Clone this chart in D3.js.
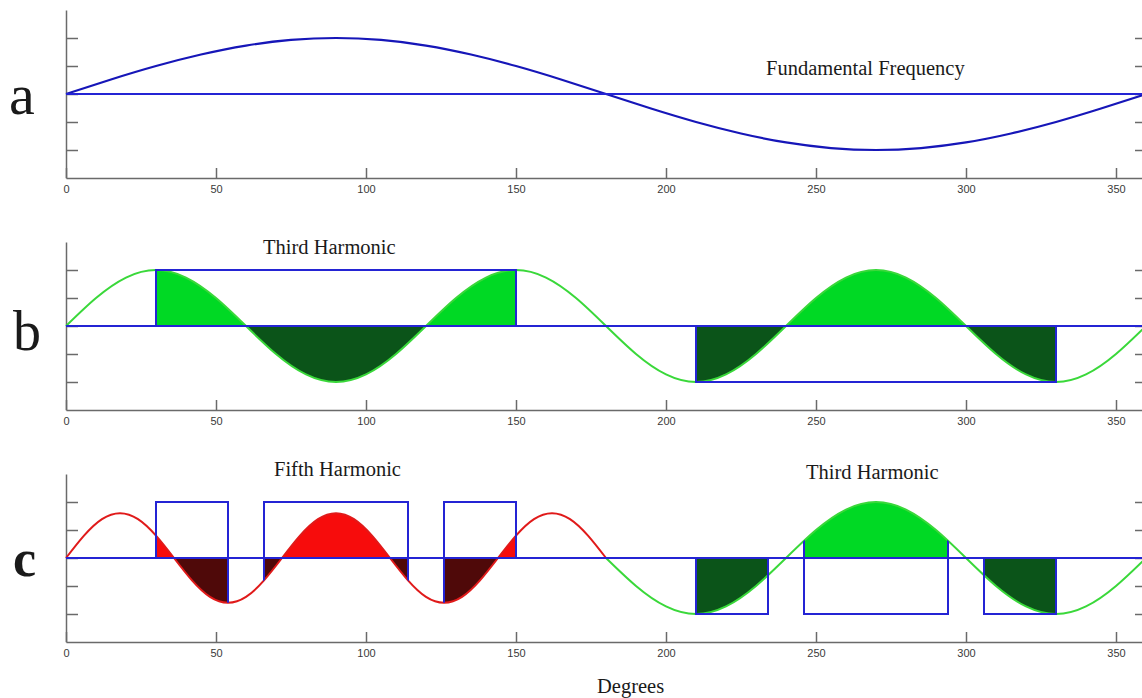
<!DOCTYPE html>
<html>
<head>
<meta charset="utf-8">
<script src="https://cdn.jsdelivr.net/npm/d3@7/dist/d3.min.js"></script>
<style>
  html, body { margin: 0; padding: 0; background: #fff; }
  svg { display: block; }
  .tick text { font-family: "Liberation Sans", Arial, sans-serif; font-size: 11px; fill: #3a3a3a; }
  .serif { font-family: "Liberation Serif", "Times New Roman", serif; fill: #1a1a1a; }
</style>
</head>
<body>
<svg id="chart" width="1142" height="698"></svg>
<script>
// Degree axis ticks and the (unlabelled) level ticks on each panel
const degreeTicks = [0, 50, 100, 150, 200, 250, 300, 350];
const levelTicks = [-2, -1, 0, 1, 2];

// Fundamental, sampled every 15 degrees from 0 to 360
const fundamentalStart = 0, fundamentalStep = 15;
const fundamental = [0, 0.52, 1.0, 1.41, 1.73, 1.93, 2, 1.93, 1.73, 1.41, 1.0, 0.52,
  0, -0.52, -1.0, -1.41, -1.73, -1.93, -2, -1.93, -1.73, -1.41, -1.0, -0.52, 0];

// Third harmonic, sampled every 10 degrees from 0 to 360
const thirdStart = 0, thirdStep = 10;
const thirdHarmonic = [0, 1, 1.73, 2, 1.73, 1, 0, -1, -1.73, -2, -1.73, -1,
  0, 1, 1.73, 2, 1.73, 1, 0, -1, -1.73, -2, -1.73, -1,
  0, 1, 1.73, 2, 1.73, 1, 0, -1, -1.73, -2, -1.73, -1, 0];

// Lower panel: fifth harmonic over 0..180 (every 6 degrees), third harmonic over 180..360 (every 10 degrees)
const fifthStart = 0, fifthStep = 6;
const fifthHarmonic = [0, 0.8, 1.39, 1.6, 1.39, 0.8, 0, -0.8, -1.39, -1.6, -1.39, -0.8,
  0, 0.8, 1.39, 1.6, 1.39, 0.8, 0, -0.8, -1.39, -1.6, -1.39, -0.8,
  0, 0.8, 1.39, 1.6, 1.39, 0.8, 0];
const thirdTailStart = 180, thirdTailStep = 10;
const thirdHarmonicTail = [0, -1, -1.73, -2, -1.73, -1, 0, 1, 1.73, 2, 1.73, 1,
  0, -1, -1.73, -2, -1.73, -1, 0];

// Switching pulses: [start degree, end degree, level]
const pulsesThird = [[30, 150, 2], [210, 330, -2]];
const pulsesFifthC = [[30, 54, 2], [66, 114, 2], [126, 150, 2]];
const pulsesThirdC = [[210, 234, -2], [246, 294, -2], [306, 330, -2]];

// Panel letters and captions
const panelLetters = ["a", "b", "c"];
const captionFundamental = "Fundamental Frequency";
const captionThird = "Third Harmonic";
const captionFifth = "Fifth Harmonic";
const axisTitle = "Degrees";

const svg = d3.select("#chart");
const W = 1142;
const panelHeight = 168;
const panelTops = [10, 242, 474];

const xs = d3.scaleLinear().domain([0, 360]).range([66, 1146]);

const BLUE = "#2424d4";
const colors = {
  green: { line: "#3ad83a", pos: "#00d924", neg: "#0b5419" },
  red:   { line: "#e01a1a", pos: "#f70c0c", neg: "#4f0909" }
};

let clipId = 0;
const defs = svg.append("defs");

function toPoints(values, start, step) {
  return values.map((v, i) => [start + i * step, v]);
}

function makePanel(i) {
  const top = panelTops[i];
  const ys = d3.scaleLinear().domain([-3, 3]).range([top + panelHeight, top]);
  const g = svg.append("g");
  return { g, ys, top, bottom: top + panelHeight };
}

function drawAxes(p) {
  const { g, ys } = p;
  const ax = g.append("g");
  ax.append("g")
    .attr("transform", `translate(0,${ys(-3)})`)
    .call(d3.axisBottom(xs).tickValues(degreeTicks).tickSizeInner(-10).tickSizeOuter(0).tickPadding(7));
  ax.append("g")
    .attr("transform", `translate(${xs(0)},0)`)
    .call(d3.axisLeft(ys).tickValues(levelTicks).tickSizeInner(-12).tickSizeOuter(0).tickFormat(""));
  ax.append("g")
    .attr("transform", `translate(${xs(360)},0)`)
    .call(d3.axisRight(ys).tickValues(levelTicks).tickSizeInner(-11).tickSizeOuter(0).tickFormat(""));
  ax.selectAll(".domain, .tick line").attr("stroke", "#6a6a6a").attr("stroke-width", 1.5);
}

// Filled lobes of a wave inside each pulse window, with the pulse outline on top
function drawPulses(p, points, pulses, palette) {
  const { g, ys, top, bottom } = p;
  const area = d3.area().x(d => xs(d[0])).y0(ys(0)).y1(d => ys(d[1])).curve(d3.curveNatural);

  const areaClip = "clip" + (clipId++);
  defs.append("clipPath").attr("id", areaClip).append("path").attr("d", area(points));

  pulses.forEach(([a, b, level]) => {
    [["pos", top, ys(0)], ["neg", ys(0), bottom]].forEach(([sign, y0, y1]) => {
      const id = "clip" + (clipId++);
      defs.append("clipPath").attr("id", id).append("rect")
        .attr("x", xs(a)).attr("y", y0).attr("width", xs(b) - xs(a)).attr("height", y1 - y0);
      g.append("path").attr("d", area(points)).attr("fill", palette[sign])
        .attr("clip-path", `url(#${id})`);
    });
  });
  return { areaClip };
}

function drawPulseOutlines(p, pulses, areaClip) {
  const { g, ys, top, bottom } = p;
  pulses.forEach(([a, b, level]) => {
    g.append("path")
      .attr("d", `M${xs(a)},${ys(0)}V${ys(level)}H${xs(b)}V${ys(0)}`)
      .attr("fill", "none").attr("stroke", BLUE).attr("stroke-width", 2);
    // pulse edges continue between the axis and the wave
    [a, b].forEach(e => {
      g.append("line").attr("x1", xs(e)).attr("x2", xs(e)).attr("y1", top).attr("y2", bottom)
        .attr("stroke", BLUE).attr("stroke-width", 2).attr("clip-path", `url(#${areaClip})`);
    });
  });
}

function drawWave(p, points, color, width) {
  const line = d3.line().x(d => xs(d[0])).y(d => p.ys(d[1])).curve(d3.curveNatural);
  p.g.append("path").attr("d", line(points)).attr("fill", "none")
    .attr("stroke", color).attr("stroke-width", width);
}

function drawBaseline(p) {
  p.g.append("line").attr("x1", xs(0)).attr("x2", W + 4).attr("y1", p.ys(0)).attr("y2", p.ys(0))
    .attr("stroke", BLUE).attr("stroke-width", 2);
}

function caption(text, x, y, size) {
  return svg.append("text").attr("class", "serif").attr("x", x).attr("y", y)
    .attr("font-size", size).text(text);
}

// Panel a: fundamental
const pa = makePanel(0);
drawAxes(pa);
drawWave(pa, toPoints(fundamental, fundamentalStart, fundamentalStep), "#1616b8", 2.2);
drawBaseline(pa);
caption(captionFundamental, 766, 75, 20.5);

// Panel b: third harmonic against a 120-degree pulse
const pb = makePanel(1);
drawAxes(pb);
const thirdPts = toPoints(thirdHarmonic, thirdStart, thirdStep);
const fb = drawPulses(pb, thirdPts, pulsesThird, colors.green);
drawWave(pb, thirdPts, colors.green.line, 2);
drawPulseOutlines(pb, pulsesThird, fb.areaClip);
drawBaseline(pb);
caption(captionThird, 263, 254, 20.5);

// Panel c: fifth harmonic then third harmonic against notched pulses
const pc = makePanel(2);
drawAxes(pc);
const fifthPts = toPoints(fifthHarmonic, fifthStart, fifthStep);
const tailPts = toPoints(thirdHarmonicTail, thirdTailStart, thirdTailStep);
const fc1 = drawPulses(pc, fifthPts, pulsesFifthC, colors.red);
const fc2 = drawPulses(pc, tailPts, pulsesThirdC, colors.green);
drawWave(pc, fifthPts, colors.red.line, 2);
drawWave(pc, tailPts, colors.green.line, 2);
drawPulseOutlines(pc, pulsesFifthC, fc1.areaClip);
drawPulseOutlines(pc, pulsesThirdC, fc2.areaClip);
drawBaseline(pc);
caption(captionFifth, 274, 476, 20.5);
caption(captionThird, 806, 479, 20.5);

// Panel letters
caption(panelLetters[0], 9, 114, 58);
caption(panelLetters[1], 13, 350, 56);
caption(panelLetters[2], 13, 576, 52).attr("font-weight", "bold");

// Shared axis title
caption(axisTitle, 597, 693, 20.5);
</script>
</body>
</html>
